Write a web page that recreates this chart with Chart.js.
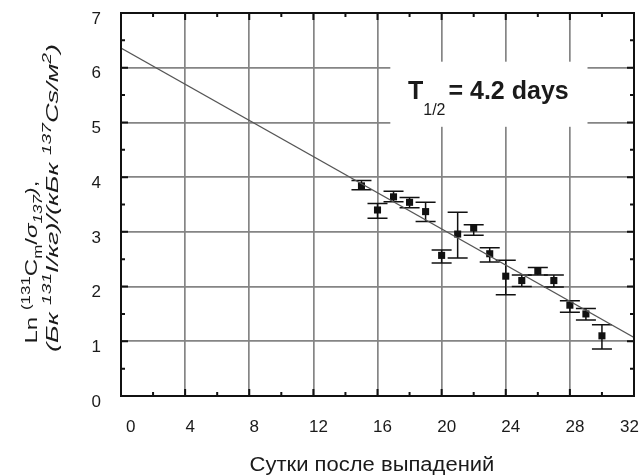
<!DOCTYPE html>
<html>
<head>
<meta charset="utf-8">
<script src="https://cdn.jsdelivr.net/npm/chart.js@4/dist/chart.umd.min.js"></script>
<style>
  body { margin: 0; background: #fff; }
  #wrap { width: 642px; height: 475px; }
</style>
</head>
<body>
<div id="wrap"><canvas id="c"></canvas></div>
<script>
// data
const days = [15, 16, 17, 18, 19, 20, 21, 22, 23, 24, 25, 26, 27, 28, 29, 30];
const lnRatio = [3.84, 3.40, 3.64, 3.54, 3.37, 2.57, 2.96, 3.07, 2.60, 2.19, 2.11, 2.28, 2.11, 1.66, 1.50, 1.10];
const errHigh = [3.94, 3.52, 3.74, 3.63, 3.54, 2.67, 3.36, 3.13, 2.71, 2.48, 2.21, 2.35, 2.21, 1.74, 1.60, 1.30];
const errLow = [3.77, 3.25, 3.55, 3.44, 3.19, 2.43, 2.52, 2.94, 2.45, 1.85, 2.00, 2.21, 1.99, 1.53, 1.39, 0.86];
const fitDays = [0, 32];
const fitLn = [6.36, 1.07];
const xTicks = [0, 4, 8, 12, 16, 20, 24, 28, 32];
const yTicks = [0, 1, 2, 3, 4, 5, 6, 7];

const FONT = '"Liberation Sans", Arial, sans-serif';

// a line of text made of pieces: [text, "n" | "sup" | "sub", italic]
function pieceFont(p, size) {
  const s = p[1] === "n" ? size : Math.round(size * 0.68);
  return (p[2] ? "italic " : "") + s + "px " + FONT;
}

function richWidth(ctx, parts, size) {
  let w = 0;
  parts.forEach(p => {
    ctx.font = pieceFont(p, size);
    w += ctx.measureText(p[0]).width;
  });
  return w;
}

// draws the pieces centred on (0,0), stretched to a given length
function drawRichFit(ctx, parts, size, length) {
  const natural = richWidth(ctx, parts, size);
  ctx.save();
  ctx.scale(length / natural, 1);
  let cx = -natural / 2;
  parts.forEach(p => {
    ctx.font = pieceFont(p, size);
    let dy = 0;
    if (p[1] === "sup") dy = -size * 0.42;
    if (p[1] === "sub") dy = size * 0.28;
    ctx.fillText(p[0], cx, dy);
    cx += ctx.measureText(p[0]).width;
  });
  ctx.restore();
}

const yTitle1 = [
  ["Ln ", "n"], ["(131", "sup"], ["C", "n"], ["m", "sub"], ["/", "n"],
  ["σ", "n", true], ["137", "sub", true], [")", "n", true], [",", "n"]
];
const yTitle2 = [
  ["(Бк ", "n", true], ["131", "sup", true], ["I/кг)/(кБк ", "n", true],
  ["137", "sup", true], ["Cs/м", "n", true], ["2", "sup", true], [")", "n", true]
];

const extras = {
  id: "extras",
  beforeDatasetsDraw(chart) {
    const { ctx, scales: { x, y } } = chart;
    // white box behind the half-life note
    ctx.save();
    ctx.fillStyle = "#fff";
    const x0 = x.getPixelForValue(16.8), x1 = x.getPixelForValue(29.1);
    const y0 = y.getPixelForValue(6.11), y1 = y.getPixelForValue(4.92);
    ctx.fillRect(x0, y0, x1 - x0, y1 - y0);
    ctx.restore();

    // error bars
    ctx.save();
    ctx.strokeStyle = "#111";
    ctx.lineWidth = 1.5;
    days.forEach((d, i) => {
      const px = x.getPixelForValue(d);
      const hi = y.getPixelForValue(errHigh[i]);
      const lo = y.getPixelForValue(errLow[i]);
      ctx.beginPath();
      ctx.moveTo(px, hi); ctx.lineTo(px, lo);
      ctx.moveTo(px - 10, hi); ctx.lineTo(px + 10, hi);
      ctx.moveTo(px - 10, lo); ctx.lineTo(px + 10, lo);
      ctx.stroke();
    });
    ctx.restore();
  },
  afterDraw(chart) {
    const { ctx, chartArea: a, scales: { x, y } } = chart;
    ctx.save();
    ctx.strokeStyle = "#111";
    ctx.lineWidth = 2;
    // inward ticks, major and minor
    ctx.beginPath();
    for (let v = 2; v < 32; v += 2) {
      const px = x.getPixelForValue(v);
      const len = v % 4 === 0 ? 7 : 4;
      ctx.moveTo(px, a.bottom); ctx.lineTo(px, a.bottom - len);
      ctx.moveTo(px, a.top); ctx.lineTo(px, a.top + len);
    }
    for (let v = 0.5; v < 7; v += 0.5) {
      const py = y.getPixelForValue(v);
      const len = v % 1 === 0 ? 7 : 4;
      ctx.moveTo(a.left, py); ctx.lineTo(a.left + len, py);
      ctx.moveTo(a.right, py); ctx.lineTo(a.right - len, py);
    }
    ctx.stroke();
    ctx.strokeRect(a.left, a.top, a.right - a.left, a.bottom - a.top);

    // half-life note
    ctx.fillStyle = "#1a1a1a";
    ctx.textBaseline = "alphabetic";
    ctx.textAlign = "left";
    const tx = x.getPixelForValue(17.9), ty = y.getPixelForValue(5.43);
    ctx.font = "bold 25px " + FONT;
    ctx.fillText("T", tx, ty);
    let w = ctx.measureText("T").width;
    ctx.font = "16px " + FONT;
    ctx.fillText("1/2", tx + w, ty + 16);
    w += ctx.measureText("1/2").width;
    ctx.font = "bold 25px " + FONT;
    ctx.fillText("= 4.2 days", tx + w + 3, ty);

    // x axis title, slightly wide like the original lettering
    ctx.save();
    ctx.font = "20px " + FONT;
    ctx.textAlign = "center";
    ctx.translate(372, 471);
    ctx.scale(1.1, 1);
    ctx.fillText("Сутки после выпадений", 0, 0);
    ctx.restore();

    // y axis title, two rotated lines
    ctx.textAlign = "left";
    ctx.save();
    ctx.translate(37, 262);
    ctx.rotate(-Math.PI / 2);
    drawRichFit(ctx, yTitle1, 17, 163);
    ctx.restore();
    ctx.save();
    ctx.translate(58, 198);
    ctx.rotate(-Math.PI / 2);
    drawRichFit(ctx, yTitle2, 17, 308);
    ctx.restore();
    ctx.restore();
  }
};

const gridStyle = { color: "#858585", lineWidth: 1.7, drawTicks: false };

function noPadding(s) {
  s.paddingTop = 0; s.paddingBottom = 0; s.paddingLeft = 0; s.paddingRight = 0;
}

new Chart(document.getElementById("c"), {
  type: "scatter",
  data: {
    datasets: [
      {
        label: "fit",
        type: "line",
        data: fitDays.map((d, i) => ({ x: d, y: fitLn[i] })),
        borderColor: "#555",
        borderWidth: 1.1,
        pointRadius: 0,
        fill: false
      },
      {
        label: "ln ratio",
        data: days.map((d, i) => ({ x: d, y: lnRatio[i] })),
        pointStyle: "rect",
        pointRadius: 5,
        backgroundColor: "#111",
        borderColor: "#111",
        borderWidth: 0
      }
    ]
  },
  options: {
    responsive: true,
    maintainAspectRatio: false,
    animation: false,
    layout: { padding: { left: 0, top: 13, right: 8, bottom: 0 } },
    plugins: { legend: { display: false }, tooltip: { enabled: false } },
    scales: {
      x: {
        type: "linear",
        min: 0,
        max: 32,
        afterBuildTicks: s => { s.ticks = xTicks.map(v => ({ value: v })); },
        afterFit: s => { s.height = 79; noPadding(s); },
        ticks: {
          color: "#1a1a1a",
          font: { family: FONT, size: 17 },
          padding: 21,
          align: "inner",
          labelOffset: 5,
          maxRotation: 0
        },
        grid: gridStyle,
        border: { display: false }
      },
      y: {
        min: 0,
        max: 7,
        afterBuildTicks: s => { s.ticks = yTicks.map(v => ({ value: v })); },
        afterFit: s => { s.width = 121; noPadding(s); },
        ticks: {
          color: "#1a1a1a",
          font: { family: FONT, size: 17 },
          padding: 20,
          labelOffset: 6
        },
        grid: gridStyle,
        border: { display: false }
      }
    }
  },
  plugins: [extras]
});
</script>
</body>
</html>
